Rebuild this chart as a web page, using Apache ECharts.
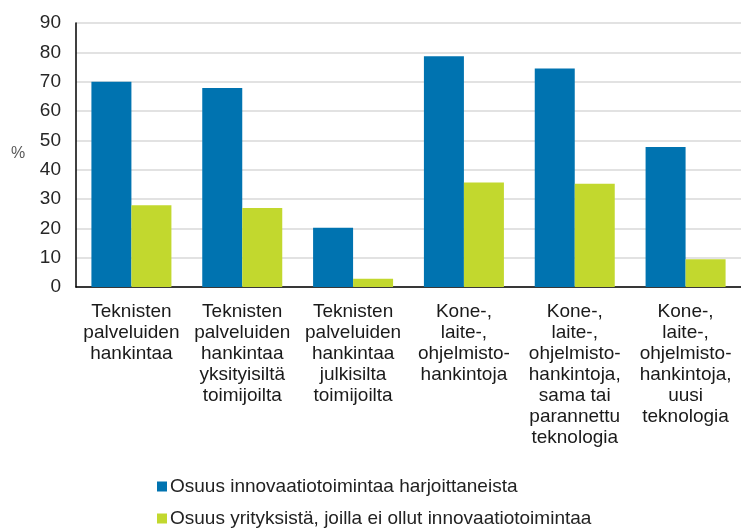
<!DOCTYPE html>
<html><head><meta charset="utf-8">
<script src="https://cdn.jsdelivr.net/npm/echarts@6/dist/echarts.min.js"></script>
<style>html,body{margin:0;padding:0;background:#fff}#c{width:741px;height:528px}</style>
</head><body><div id="c"></div>
<script>
const categories = [
  "Teknisten\npalveluiden\nhankintaa",
  "Teknisten\npalveluiden\nhankintaa\nyksityisiltä\ntoimijoilta",
  "Teknisten\npalveluiden\nhankintaa\njulkisilta\ntoimijoilta",
  "Kone-,\nlaite-,\nohjelmisto-\nhankintoja",
  "Kone-,\nlaite-,\nohjelmisto-\nhankintoja,\nsama tai\nparannettu\nteknologia",
  "Kone-,\nlaite-,\nohjelmisto-\nhankintoja,\nuusi\nteknologia"
];
const seriesNames = ["Osuus innovaatiotoimintaa harjoittaneista", "Osuus yrityksistä, joilla ei ollut innovaatiotoimintaa"];
const innovators = [70, 67.8, 20.2, 78.7, 74.5, 47.7];
const nonInnovators = [27.9, 26.9, 2.8, 35.6, 35.2, 9.5];
const yTicks = { min: 0, max: 90, interval: 10 };

const font = "Liberation Sans, Arial, sans-serif";
const chart = echarts.init(document.getElementById('c'), null, {renderer: 'canvas'});
const legendBase = {
  orient: 'horizontal', left: 152, itemWidth: 10, itemHeight: 10,
  icon: 'rect',
  textStyle: { fontSize: 19, color: '#222', fontFamily: font, padding: [0, 0, 0, -2] }
};
chart.setOption({
  animation: false,
  color: ['#0073B0', '#C2D82E'],
  textStyle: { fontFamily: font },
  grid: { left: 76, right: -4, top: 23, bottom: 241 },
  graphic: [{ type: 'text', left: 11, top: 146, style: { text: '%', font: '16px ' + font, fill: '#595959' } }],
  legend: [
    Object.assign({}, legendBase, { top: 472, data: [seriesNames[0]] }),
    Object.assign({}, legendBase, { top: 504, data: [seriesNames[1]] })
  ],
  xAxis: {
    type: 'category', data: categories,
    axisLine: { lineStyle: { color: '#000', width: 1.5 } },
    axisTick: { show: false },
    axisLabel: { interval: 0, fontSize: 19, color: '#1a1a1a', lineHeight: 21, margin: 14, fontFamily: font }
  },
  yAxis: {
    type: 'value', min: yTicks.min, max: yTicks.max, interval: yTicks.interval,
    axisLine: { show: true, lineStyle: { color: '#000', width: 1.5 } },
    axisTick: { show: false },
    axisLabel: { fontSize: 19, color: '#262626', margin: 15, fontFamily: font },
    splitLine: { lineStyle: { color: '#d9d9d9', width: 1.5 } }
  },
  series: [
    { name: seriesNames[0], type: 'bar', data: innovators, barWidth: 40, barGap: '0%' },
    { name: seriesNames[1], type: 'bar', data: nonInnovators, barWidth: 40, barGap: '0%' }
  ]
});
</script></body></html>
